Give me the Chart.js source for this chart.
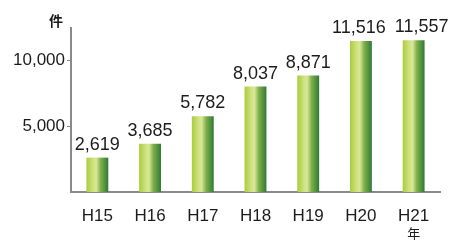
<!DOCTYPE html>
<html>
<head>
<meta charset="utf-8">
<script src="https://cdn.jsdelivr.net/npm/chart.js@4.4.1/dist/chart.umd.min.js"></script>
<style>
  html, body { margin: 0; padding: 0; background: #fff; }
  #wrap { width: 449px; height: 242px; }
</style>
</head>
<body>
<div id="wrap"><canvas id="casesChart" width="449" height="242"></canvas></div>
<script>
// 件数の推移 (H15 - H21)
const years = ['H15', 'H16', 'H17', 'H18', 'H19', 'H20', 'H21'];
const cases = [2619, 3685, 5782, 8037, 8871, 11516, 11557];
const yTicks = [5000, 10000];

const textColor = '#1c1c1c';
const axisColor = '#8a8a8a';
const barPct = 0.83, catPct = 0.5;

// horizontal green gradient, one per bar
function barGradient(context) {
    const chart = context.chart;
    const area = chart.chartArea;
    const xs = chart.scales.x;
    if (!area || !xs || context.dataIndex === undefined) return '#7fb04a';
    const cx = xs.getPixelForValue(context.dataIndex);
    const half = (area.right - area.left) / years.length * barPct * catPct / 2;
    const g = chart.ctx.createLinearGradient(cx - half, 0, cx + half, 0);
    g.addColorStop(0, '#a9cc3e');
    g.addColorStop(0.3, '#cfe27c');
    g.addColorStop(0.45, '#d9e79a');
    g.addColorStop(0.65, '#7fb04a');
    g.addColorStop(1, '#2f7a36');
    return g;
}

const valueLabels = {
    id: 'valueLabels',
    afterDatasetsDraw(chart) {
        const ctx = chart.ctx;
        ctx.save();
        ctx.fillStyle = textColor;
        ctx.font = '18px "Liberation Sans", Arial, sans-serif';
        ctx.textAlign = 'center';
        ctx.textBaseline = 'alphabetic';
        chart.getDatasetMeta(0).data.forEach((bar, i) => {
            const shift = i === cases.length - 1 ? 8 : (i === cases.length - 2 ? -2 : 0);
            ctx.fillText(cases[i].toLocaleString('en-US'), bar.x + shift, bar.y - 8);
        });
        // unit labels
        ctx.font = 'bold 14px "Noto Sans CJK JP", sans-serif';
        ctx.fillText('件', 56, 26);
        const last = chart.getDatasetMeta(0).data[cases.length - 1];
        ctx.font = '13px "Noto Sans CJK JP", sans-serif';
        ctx.fillText('年', last.x, 238);
        ctx.restore();
    }
};

new Chart(document.getElementById('casesChart'), {
    type: 'bar',
    data: {
        labels: years,
        datasets: [{
            data: cases,
            backgroundColor: barGradient,
            barPercentage: barPct,
            categoryPercentage: catPct
        }]
    },
    options: {
        responsive: false,
        animation: false,
        layout: { padding: { top: 28, right: 9, left: 0, bottom: 0 } },
        plugins: { legend: { display: false }, tooltip: { enabled: false } },
        scales: {
            x: {
                grid: { display: false },
                border: { color: axisColor, width: 2 },
                ticks: {
                    color: textColor,
                    padding: 6,
                    font: { family: '"Liberation Sans", Arial, sans-serif', size: 17 }
                },
                afterFit(axis) { axis.height = 50; }
            },
            y: {
                min: 0,
                max: 12500,
                afterBuildTicks(axis) { axis.ticks = yTicks.map(v => ({ value: v })); },
                grid: { drawOnChartArea: false, tickLength: 4, color: axisColor },
                border: { color: axisColor, width: 2 },
                ticks: {
                    color: textColor,
                    padding: 2,
                    font: { family: '"Liberation Sans", Arial, sans-serif', size: 17 },
                    callback: v => v.toLocaleString('en-US')
                },
                afterFit(axis) { axis.width = 71; }
            }
        }
    },
    plugins: [valueLabels]
});
</script>
</body>
</html>
